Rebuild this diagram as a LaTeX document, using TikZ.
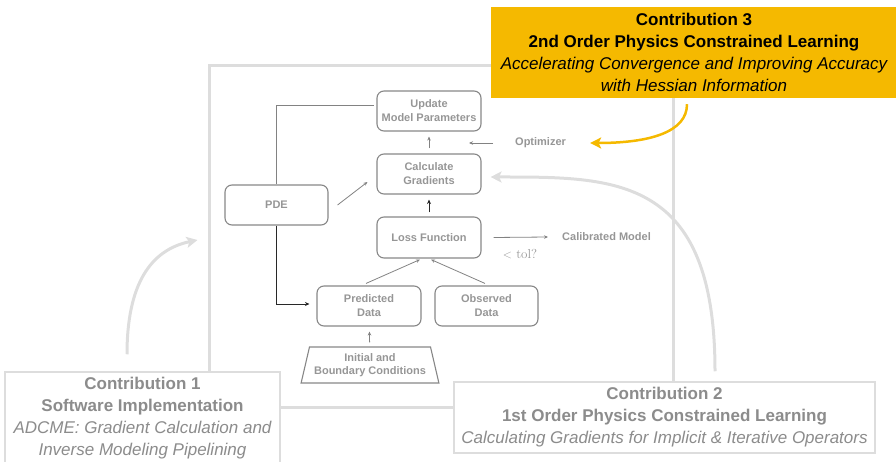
\documentclass[tikz,border=0pt]{standalone}
\usepackage{fontspec}
\setsansfont{Liberation Sans}
\usetikzlibrary{shapes.geometric,arrows.meta}
\definecolor{framegray}{RGB}{221,221,221}
\definecolor{contribtext}{RGB}{140,140,140}
\definecolor{nodetext}{RGB}{150,150,150}
\definecolor{nodeborder}{RGB}{135,135,135}
\definecolor{linegray}{RGB}{130,130,130}
\definecolor{darkline}{RGB}{40,40,40}
\definecolor{cyellow}{RGB}{245,185,0}
\begin{document}
\begin{tikzpicture}[x=1pt,y=-1pt,
  box/.style={draw=nodeborder, line width=1.1pt, rounded corners=7pt,
    minimum width=104pt, minimum height=40pt, inner sep=0pt,
    font=\sffamily\bfseries\fontsize{11}{14}\selectfont, text=nodetext, align=center},
  lbl/.style={font=\sffamily\bfseries\fontsize{11}{14}\selectfont, text=nodetext, inner sep=0pt},
  contrib/.style={draw=framegray, line width=1.5pt, fill=white, inner sep=0pt,
    font=\sffamily\fontsize{17}{22}\selectfont, text=contribtext, align=center},
  thin/.style={draw=linegray, line width=0.8pt},
  tarrow/.style={thin, -{Stealth[length=4pt,width=3.5pt]}},
  darrow/.style={draw=darkline, line width=0.9pt, -{Stealth[length=4.5pt,width=4pt]}},
  bigarrow/.style={line width=3pt, -{Stealth[length=11pt,width=11pt,inset=2.5pt]}}
]
\useasboundingbox (0,0) rectangle (896,462);
% frame
\node[draw=framegray, line width=3pt, minimum width=464pt, minimum height=341pt, inner sep=0pt] (frame) at (441,236.5) {};
% process nodes
\node[box] (upd) at (429,111) {Update\\Model Parameters};
\node[box] (calc) at (429,174) {Calculate\\Gradients};
\node[box, minimum width=103pt] (pde) at (276.5,205) {PDE};
\node[box, minimum height=41pt] (loss) at (429,237.5) {Loss Function};
\node[box] (pred) at (369,306) {Predicted\\Data};
\node[box, minimum width=103pt] (obs) at (486.5,306) {Observed\\Data};
\node[trapezium, draw=nodeborder, line width=1.1pt, trapezium stretches=true,
  trapezium left angle=71.6, trapezium right angle=71.6,
  minimum width=138pt, minimum height=36pt, inner sep=0pt,
  font=\sffamily\bfseries\fontsize{11}{13}\selectfont, text=nodetext, align=center] (ibc) at (370,365) {Initial and\\Boundary Conditions};
% labels
\node[lbl, anchor=west] (cal) at (562,237) {Calibrated Model};
\node[lbl, anchor=west] (opt) at (515,143) {Optimizer};
\node[text=nodetext, inner sep=0pt, font=\fontsize{13}{15}\selectfont] (tol) at (520,254) {$<$ tol?};
% connectors
\draw[tarrow, shorten <=5pt, shorten >=5pt] (calc) -- (upd);
\draw[darrow, shorten <=4pt, shorten >=5pt] (loss) -- (calc);
\draw[tarrow] ([xshift=9pt]pde.east) -- ([xshift=-9pt,yshift=-8pt]calc.west);
\draw[thin] (pde.north) |- ([xshift=-2pt,yshift=6pt]upd.west);
\draw[darrow] (pde.south) |- ([xshift=-7pt,yshift=2pt]pred.west);
\draw[tarrow] ([xshift=-3pt,yshift=2pt]pred.north) -- ([xshift=-9pt,yshift=-1pt]loss.south);
\draw[tarrow] ([xshift=-1.5pt,yshift=2pt]obs.north) -- ([xshift=2pt,yshift=-1pt]loss.south);
\draw[tarrow, shorten <=4pt, shorten >=5pt] (ibc) -- (pred);
\draw[tarrow] ([xshift=12pt]loss.east) -- ([xshift=-14pt]cal.west);
\draw[tarrow] ([xshift=-22pt]opt.west) -- ([xshift=-46pt]opt.west);
% contributions
\node[contrib, minimum width=275pt, minimum height=93pt] (c1) at (142.5,418.5)
  {{\bfseries Contribution 1}\\{\bfseries Software Implementation}\\{\itshape ADCME: Gradient Calculation and}\\{\itshape Inverse Modeling Pipelining}};
\node[contrib, minimum width=421pt, minimum height=71pt] (c2) at (664.5,417.5)
  {{\bfseries Contribution 2}\\{\bfseries 1st Order Physics Constrained Learning}\\{\itshape Calculating Gradients for Implicit \& Iterative Operators}};
\node[fill=cyellow, minimum width=406pt, minimum height=91pt, inner sep=0pt,
  font=\sffamily\fontsize{17}{22}\selectfont, text=black, align=center] (c3) at (694,52.5)
  {{\bfseries Contribution 3}\\{\bfseries 2nd Order Physics Constrained Learning}\\{\itshape Accelerating Convergence and Improving Accuracy}\\{\itshape with Hessian Information}};
% big curved arrows
\draw[bigarrow, draw=framegray] ([xshift=-15.5pt,yshift=17pt]c1.north) .. controls (127,285) and (150,250) .. ([xshift=-10pt,yshift=-3.5pt]frame.west);
\draw[bigarrow, draw=framegray] ([xshift=50.5pt,yshift=10pt]c2.north) .. controls (715,175) and (615,177) .. ([xshift=9pt,yshift=-3pt]calc.east);
\draw[bigarrow, draw=cyellow, line width=2.5pt] ([xshift=-7pt,yshift=-6pt]c3.south) .. controls (687,132) and (650,143) .. ([xshift=24pt]opt.east);
\end{tikzpicture}
\end{document}
